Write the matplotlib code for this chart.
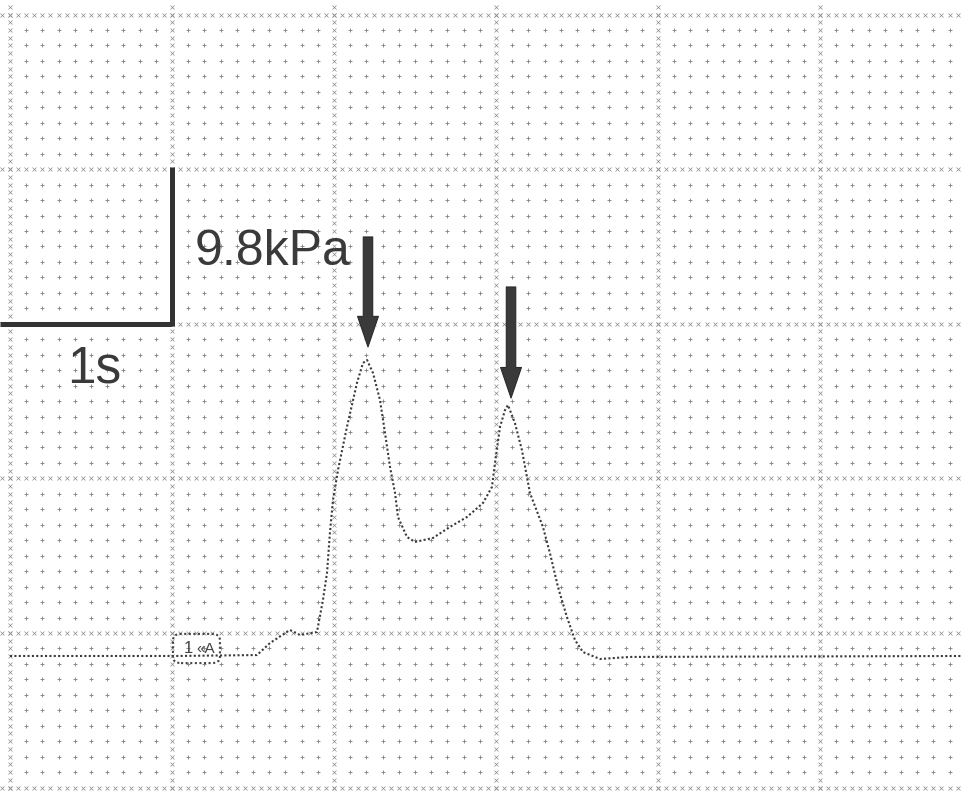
import numpy as np
import matplotlib.pyplot as plt
from matplotlib.patches import FancyArrowPatch, FancyBboxPatch

# trace: time (s) and pressure above baseline (kPa)
time_s = [0.00, 1.02, 1.525, 1.605, 1.728, 1.79, 1.895, 1.932, 1.957, 1.975,
          1.994, 2.025, 2.080, 2.142, 2.179, 2.204, 2.241, 2.284, 2.315, 2.346,
          2.377, 2.395, 2.451, 2.500, 2.611, 2.716, 2.821, 2.920, 2.975, 2.994,
          3.025, 3.056, 3.074, 3.117, 3.160, 3.210, 3.290, 3.333, 3.383, 3.438,
          3.488, 3.537, 3.642, 3.827, 5.877]
pressure_kpa = [0.00, 0.00, 0.06, 0.82, 1.65, 1.33, 1.52, 3.55, 5.26, 7.80,
                9.89, 11.79, 14.52, 17.31, 18.57, 18.76, 17.94, 16.23, 14.14, 11.98,
                10.33, 8.81, 7.54, 7.23, 7.48, 8.18, 8.81, 9.70, 10.71, 12.23,
                14.52, 15.59, 15.91, 14.77, 13.06, 10.33, 8.18, 6.53, 4.37, 2.47,
                1.01, 0.25, -0.19, -0.06, 0.00]

# peaks marked with arrows (time, top of shaft, tip) and scale labels
arrow_t = [2.21, 3.093]
arrow_top = [26.56, 23.39]
arrow_tip = [19.59, 16.35]
scale_time = "1s"
scale_press = "9.8kPa"
kpa_per_div = 9.8
grid_offset = 1.458   # grid line just above the baseline, in kPa

fig = plt.figure(figsize=(9.62, 8.05), dpi=100)
ax = fig.add_axes([0, 0, 1, 1])
ax.set_xlim(-0.0617, 5.877)
ax.set_ylim(-9.445, 41.58)
ax.axis('off')

# chart paper: minor dots every 1/10 div, major lines dotted every 1/20 div
levels = grid_offset + kpa_per_div * np.arange(-1, 5)
tx = np.arange(0, 60) / 10.0
py = grid_offset + kpa_per_div * np.arange(-10, 41) / 10.0
mx, my = np.meshgrid(tx, py)
keep = (np.abs(mx - np.round(mx)) > 1e-6) & \
       (np.abs((my - grid_offset) / kpa_per_div - np.round((my - grid_offset) / kpa_per_div)) > 1e-6)
ax.plot(mx[keep], my[keep], '+', ms=2.6, mew=0.6, color='#808080', zorder=1)
fine_t = np.arange(-1, 120) / 20.0
fine_p = grid_offset + kpa_per_div * np.arange(-20, 82) / 20.0
for lv in levels:
    ax.plot(fine_t, np.full(len(fine_t), lv), 'x', ms=2.2, mew=0.5, color='#8a8a8a', zorder=1)
for k in range(0, 6):
    ax.plot(np.full(len(fine_p), float(k)), fine_p, 'x', ms=2.2, mew=0.5, color='#8a8a8a', zorder=1)

# pressure trace
ax.plot(time_s, pressure_kpa, ls=(0, (1, 1.1)), lw=1.5, color='#3a3a3a', zorder=3)

# channel marker on the baseline
box = FancyBboxPatch((1.006, -0.45), 0.29, 1.85, boxstyle='round,pad=0.0,rounding_size=0.05',
                     fill=False, ls=(0, (1, 1.2)), lw=1.5, ec='#444444', zorder=3, mutation_aspect=8)
ax.add_patch(box)
ax.text(1.10, 0.45, "1", fontsize=12, color='#444444', ha='center', va='center',
        family='Liberation Sans', zorder=4)
ax.text(1.21, 0.45, "«A", fontsize=11, color='#444444', ha='center', va='center',
        family='Liberation Sans', zorder=4)

# scale bars
bar_y = levels[3]
ax.plot([-0.0617, 1.0], [bar_y, bar_y], color='#333333', lw=3.6, solid_capstyle='butt', zorder=4)
ax.plot([1.0, 1.0], [bar_y - 0.15, bar_y + kpa_per_div + 0.15], color='#333333', lw=3.6,
        solid_capstyle='butt', zorder=4)
ax.text(0.352, 17.31, scale_time, fontsize=37, color='#3a3a3a', family='Liberation Sans',
        ha='left', va='baseline', zorder=5)
ax.text(1.142, 24.79, scale_press, fontsize=36, color='#3a3a3a', family='Liberation Sans',
        ha='left', va='baseline', zorder=5)

# arrows above the two peaks
for t, top, tip in zip(arrow_t, arrow_top, arrow_tip):
    arr = FancyArrowPatch((t, top), (t, tip), arrowstyle='simple,head_length=1.1,head_width=0.75,tail_width=0.34',
                          mutation_scale=20, shrinkA=0, shrinkB=0, fc='#3a3a3a', ec='#2a2a2a',
                          lw=0.8, zorder=5)
    ax.add_patch(arr)

fig.savefig('out.png', dpi=100, facecolor='white')
